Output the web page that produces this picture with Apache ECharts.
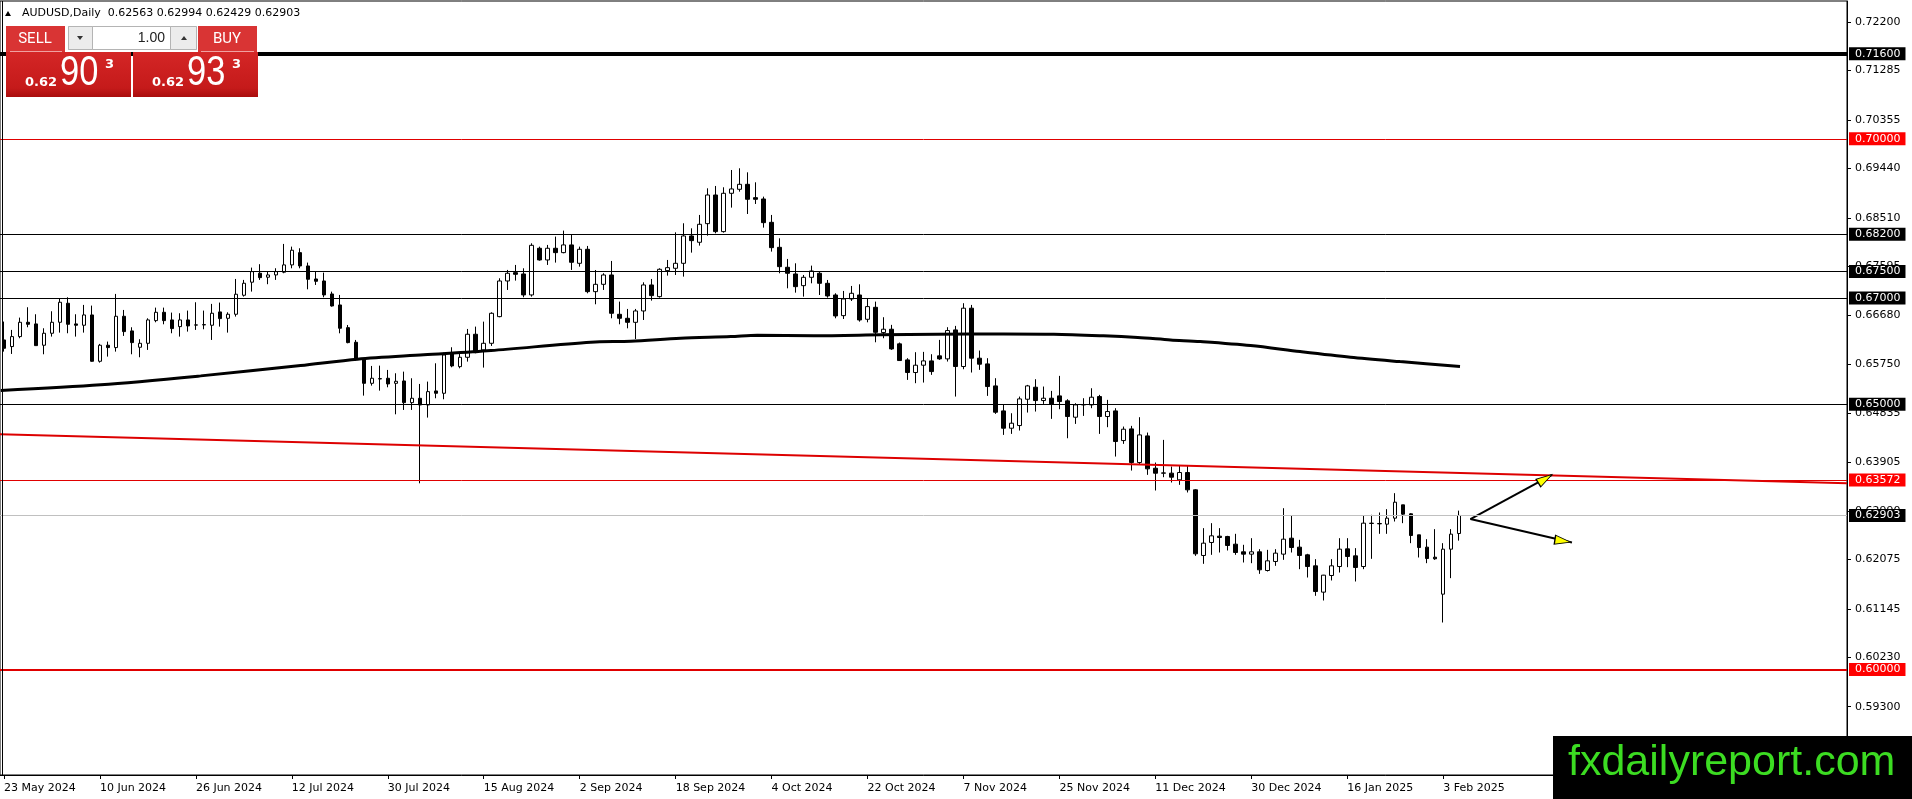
<!DOCTYPE html>
<html>
<head>
<meta charset="utf-8">
<title>AUDUSD Daily</title>
<script src="https://cdn.jsdelivr.net/npm/echarts@6.0.0/dist/echarts.min.js"></script>
<style>
  html, body { margin: 0; padding: 0; background: #fff; }
  #chart { width: 1912px; height: 799px; }
</style>
</head>
<body>
<div id="chart"></div>
<script>
// date labels, one every 12 bars, starting at bar 0
var tickLabels = ['23 May 2024', '10 Jun 2024', '26 Jun 2024', '12 Jul 2024', '30 Jul 2024',
    '15 Aug 2024', '2 Sep 2024', '18 Sep 2024', '4 Oct 2024', '22 Oct 2024', '7 Nov 2024',
    '25 Nov 2024', '11 Dec 2024', '30 Dec 2024', '16 Jan 2025', '3 Feb 2025'];

// price scale labels as MT4 prints them
var yTicks = [0.72200, 0.71285, 0.70355, 0.69440, 0.68510, 0.67595, 0.66680, 0.65750,
    0.64835, 0.63905, 0.62990, 0.62075, 0.61145, 0.60230, 0.59300];

var opens = [
    0.66210, 0.66085, 0.66273, 0.66543, 0.66512, 0.66110, 0.66336, 0.66543, 0.66901, 0.66512,
    0.66487, 0.66681, 0.65808, 0.66110, 0.66066, 0.66656, 0.66380, 0.66072, 0.66147, 0.66574,
    0.66731, 0.66587, 0.66461, 0.66587, 0.66493, 0.66493, 0.66487, 0.66738, 0.66618, 0.66694,
    0.67052, 0.67298, 0.67467, 0.67392, 0.67435, 0.67486, 0.67624, 0.67855, 0.67604, 0.67359,
    0.67321, 0.67076, 0.66869, 0.66442, 0.66166, 0.65833, 0.65393, 0.65481, 0.65488, 0.65393,
    0.65437, 0.65029, 0.65111, 0.64985, 0.65249, 0.65205, 0.65971, 0.65707, 0.65883, 0.66317,
    0.66021, 0.66147, 0.66649, 0.67321, 0.67478, 0.67453, 0.67058, 0.67937, 0.67717, 0.67937,
    0.67855, 0.68000, 0.67654, 0.67918, 0.67120, 0.67258, 0.67434, 0.66693, 0.66618, 0.66542,
    0.66756, 0.67246, 0.67026, 0.67516, 0.67560, 0.67654, 0.68169, 0.68050, 0.68401, 0.68941,
    0.68251, 0.68973, 0.69048, 0.69142, 0.68891, 0.68866, 0.68426, 0.67955, 0.67579, 0.67453,
    0.67233, 0.67390, 0.67466, 0.67277, 0.67057, 0.66668, 0.66982, 0.67057, 0.66599, 0.66825,
    0.66349, 0.66412, 0.66136, 0.65834, 0.65596, 0.65734, 0.65815, 0.65910, 0.65853, 0.66399,
    0.65709, 0.66808, 0.65866, 0.65759, 0.65344, 0.64873, 0.64547, 0.64597, 0.65093, 0.65319,
    0.65068, 0.65112, 0.65156, 0.65062, 0.64754, 0.64986, 0.64986, 0.65143, 0.64767, 0.64873,
    0.64314, 0.64534, 0.63900, 0.64402, 0.63793, 0.63699, 0.63700, 0.63574, 0.63712, 0.63386,
    0.62149, 0.62394, 0.62513, 0.62507, 0.62362, 0.62218, 0.62174, 0.62218, 0.61866, 0.62036,
    0.62174, 0.62475, 0.62306, 0.62161, 0.61954, 0.61458, 0.61772, 0.61941, 0.62274, 0.62142,
    0.61941, 0.62752, 0.62745, 0.62739, 0.62852, 0.63103, 0.62934, 0.62538, 0.62306, 0.62117,
    0.61420, 0.62268, 0.62563
];
var highs = [
    0.66556, 0.66399, 0.66631, 0.66826, 0.66694, 0.66430, 0.66750, 0.66995, 0.67014, 0.66694,
    0.66870, 0.66857, 0.66135, 0.66179, 0.67077, 0.66775, 0.66449, 0.66223, 0.66618, 0.66819,
    0.66819, 0.66725, 0.66713, 0.66763, 0.66920, 0.66763, 0.66889, 0.66914, 0.66731, 0.67359,
    0.67341, 0.67573, 0.67637, 0.67497, 0.67561, 0.68019, 0.67968, 0.67937, 0.67667, 0.67497,
    0.67478, 0.67120, 0.67058, 0.66492, 0.66210, 0.65864, 0.65720, 0.65726, 0.65645, 0.65582,
    0.65613, 0.65488, 0.65381, 0.65425, 0.65770, 0.65971, 0.66072, 0.65971, 0.66417, 0.66461,
    0.66555, 0.66731, 0.67372, 0.67529, 0.67623, 0.67560, 0.68031, 0.67968, 0.68000, 0.68157,
    0.68270, 0.68188, 0.67968, 0.67981, 0.67528, 0.67466, 0.67698, 0.66932, 0.66794, 0.66794,
    0.67296, 0.67359, 0.67560, 0.67717, 0.68238, 0.68408, 0.68313, 0.68565, 0.69067, 0.69111,
    0.69086, 0.69412, 0.69444, 0.69368, 0.69180, 0.68910, 0.68565, 0.68125, 0.67736, 0.67654,
    0.67434, 0.67610, 0.67497, 0.67340, 0.67089, 0.67133, 0.67227, 0.67258, 0.66982, 0.66932,
    0.66638, 0.66494, 0.66161, 0.65866, 0.65979, 0.65985, 0.65941, 0.66211, 0.66450, 0.66475,
    0.66902, 0.66870, 0.66010, 0.65866, 0.65489, 0.64986, 0.64829, 0.65143, 0.65363, 0.65470,
    0.65332, 0.65250, 0.65533, 0.65093, 0.65018, 0.65112, 0.65300, 0.65175, 0.65081, 0.64924,
    0.64578, 0.64591, 0.64754, 0.64465, 0.63900, 0.64327, 0.63825, 0.63838, 0.63838, 0.63398,
    0.62664, 0.62758, 0.62664, 0.62519, 0.62557, 0.62350, 0.62475, 0.62268, 0.62255, 0.62268,
    0.63040, 0.62896, 0.62444, 0.62180, 0.62080, 0.61784, 0.62080, 0.62475, 0.62475, 0.62287,
    0.62896, 0.62915, 0.62959, 0.63022, 0.63323, 0.63103, 0.62946, 0.62538, 0.62456, 0.62645,
    0.62381, 0.62645, 0.62994
];
var lows = [
    0.65990, 0.65946, 0.66242, 0.66449, 0.66103, 0.65940, 0.66273, 0.66348, 0.66336, 0.66273,
    0.66348, 0.65800, 0.65783, 0.65896, 0.65990, 0.66286, 0.65940, 0.65884, 0.66022, 0.66543,
    0.66505, 0.66336, 0.66273, 0.66367, 0.66399, 0.66411, 0.66210, 0.66461, 0.66348, 0.66650,
    0.67027, 0.67121, 0.67341, 0.67260, 0.67341, 0.67467, 0.67560, 0.67560, 0.67164, 0.67246,
    0.67014, 0.66838, 0.66335, 0.66147, 0.65820, 0.65161, 0.65349, 0.65255, 0.65318, 0.64809,
    0.64891, 0.64891, 0.63509, 0.64747, 0.65111, 0.65092, 0.65695, 0.65676, 0.65802, 0.65959,
    0.65689, 0.66097, 0.66637, 0.67152, 0.67328, 0.67014, 0.67026, 0.67704, 0.67623, 0.67667,
    0.67843, 0.67529, 0.67591, 0.67089, 0.66882, 0.67152, 0.66618, 0.66505, 0.66429, 0.66228,
    0.66586, 0.66951, 0.67007, 0.67422, 0.67434, 0.67403, 0.67855, 0.67987, 0.68175, 0.68219,
    0.68232, 0.68703, 0.69004, 0.68583, 0.68772, 0.68326, 0.67874, 0.67466, 0.67183, 0.67101,
    0.67026, 0.67277, 0.67057, 0.67007, 0.66618, 0.66605, 0.66944, 0.66555, 0.66542, 0.66166,
    0.66242, 0.66023, 0.65815, 0.65457, 0.65395, 0.65407, 0.65552, 0.65834, 0.65803, 0.65143,
    0.65658, 0.65596, 0.65646, 0.65156, 0.64817, 0.64421, 0.64440, 0.64503, 0.64842, 0.64861,
    0.65005, 0.64723, 0.64905, 0.64358, 0.64628, 0.64779, 0.64924, 0.64440, 0.64566, 0.64013,
    0.64252, 0.63749, 0.63856, 0.63668, 0.63373, 0.63624, 0.63524, 0.63480, 0.63336, 0.62142,
    0.61992, 0.62161, 0.62205, 0.62243, 0.62161, 0.62017, 0.62004, 0.61803, 0.61847, 0.61954,
    0.62067, 0.62205, 0.61891, 0.61734, 0.61389, 0.61301, 0.61678, 0.61828, 0.61929, 0.61659,
    0.61891, 0.62086, 0.62557, 0.62557, 0.62789, 0.62758, 0.62381, 0.62111, 0.62004, 0.62067,
    0.60886, 0.61722, 0.62429
];
var closes = [
    0.66053, 0.66273, 0.66543, 0.66505, 0.66103, 0.66336, 0.66543, 0.66920, 0.66505, 0.66487,
    0.66681, 0.65808, 0.66110, 0.66066, 0.66656, 0.66367, 0.66160, 0.66147, 0.66587, 0.66731,
    0.66574, 0.66424, 0.66587, 0.66474, 0.66490, 0.66499, 0.66713, 0.66612, 0.66694, 0.67071,
    0.67278, 0.67497, 0.67384, 0.67435, 0.67497, 0.67624, 0.67900, 0.67604, 0.67353, 0.67315,
    0.67058, 0.66850, 0.66430, 0.66160, 0.65852, 0.65393, 0.65488, 0.65475, 0.65381, 0.65431,
    0.65029, 0.65111, 0.64985, 0.65236, 0.65205, 0.65927, 0.65720, 0.65883, 0.66317, 0.65971,
    0.66147, 0.66712, 0.67321, 0.67466, 0.67447, 0.67058, 0.67993, 0.67717, 0.67937, 0.67855,
    0.68000, 0.67673, 0.67918, 0.67120, 0.67258, 0.67434, 0.66712, 0.66618, 0.66542, 0.66756,
    0.67246, 0.67045, 0.67541, 0.67572, 0.67654, 0.68169, 0.68081, 0.68389, 0.68941, 0.68251,
    0.68973, 0.69055, 0.69142, 0.68860, 0.68860, 0.68420, 0.67949, 0.67591, 0.67466, 0.67214,
    0.67390, 0.67510, 0.67277, 0.67039, 0.66662, 0.66982, 0.67089, 0.66586, 0.66838, 0.66354,
    0.66412, 0.66041, 0.65822, 0.65596, 0.65734, 0.65815, 0.65614, 0.65853, 0.66387, 0.65709,
    0.66808, 0.65866, 0.65753, 0.65332, 0.64848, 0.64547, 0.64641, 0.65099, 0.65344, 0.65068,
    0.65112, 0.65005, 0.65049, 0.64767, 0.64986, 0.64992, 0.65131, 0.64767, 0.64861, 0.64296,
    0.64528, 0.63900, 0.64421, 0.63781, 0.63699, 0.63705, 0.63624, 0.63712, 0.63386, 0.62180,
    0.62381, 0.62519, 0.62488, 0.62337, 0.62205, 0.62174, 0.62218, 0.61879, 0.62048, 0.62193,
    0.62456, 0.62299, 0.62149, 0.61941, 0.61470, 0.61778, 0.61954, 0.62268, 0.62130, 0.61923,
    0.62758, 0.62758, 0.62752, 0.62852, 0.63153, 0.62927, 0.62525, 0.62299, 0.62092, 0.62086,
    0.62268, 0.62551, 0.62903
];

// moving average as [bar, price]
var maLine = [
    [-0.4, 0.65256], [12.1, 0.65364], [24.6, 0.65533], [37.1, 0.65727], [44.2, 0.65848],
    [52.5, 0.65929], [60.9, 0.66010], [73.4, 0.66168], [78.4, 0.66185], [84.6, 0.66243],
    [90.9, 0.66273], [94.2, 0.66300], [101.3, 0.66290], [109.6, 0.66306], [116.7, 0.66319],
    [125.0, 0.66324], [131.3, 0.66319], [137.5, 0.66287], [141.8, 0.66255], [145.9, 0.66211],
    [149.6, 0.66179], [155.9, 0.66104], [162.1, 0.65991], [168.4, 0.65885], [174.6, 0.65802],
    [182.1, 0.65708]
];
var trendLine = [[-0.5, 0.64435], [230.5, 0.63509]];
var arrowUp = [[183.4, 0.62835], [193.6, 0.63669]];
var arrowDown = [[183.4, 0.62835], [196.1, 0.62394]];
var arrowHeads = [[192.75, 0.63594], [194.96, 0.62422]];

var heavyBlackLevels = [0.71600];
var blackLevels = [0.68200, 0.67500, 0.67000, 0.65000];
var redLevels = [0.70000, 0.63572];
var heavyRedLevels = [0.60000];
var bidPrice = 0.62903;
var askPrice = 0.62933;
var lotSize = '1.00';

var futureSlots = 48;
var yMin = 0.58013, yMax = 0.72596;

var FONT = 'DejaVu Sans';

var chart = echarts.init(document.getElementById('chart'));

var slotCount = opens.length + futureSlots;
var cats = [];
for (var i = 0; i < slotCount; i++) cats.push(String(i));

var candles = [];
for (var i = 0; i < opens.length; i++) {
    candles.push([opens[i], closes[i], lows[i], highs[i]]);
}

function isTick(index) {
    return index % 12 === 0 && index / 12 < tickLabels.length;
}

function level(value, color, width, boxColor) {
    return {
        yAxis: value,
        lineStyle: { color: color, width: width, type: 'solid' },
        label: { backgroundColor: boxColor }
    };
}

var levelData = [];
heavyBlackLevels.forEach(function (v) { levelData.push(level(v, '#000', 4, '#000')); });
blackLevels.forEach(function (v) { levelData.push(level(v, '#000', 1, '#000')); });
redLevels.forEach(function (v) { levelData.push(level(v, '#e00000', 1, '#ff0000')); });
heavyRedLevels.forEach(function (v) { levelData.push(level(v, '#e00000', 2, '#ff0000')); });
levelData.push(level(bidPrice, '#c0c0c0', 1, '#000'));

// split a quote the way the one-click panel prints it
function quoteParts(p) {
    var s = p.toFixed(5);
    return [s.slice(0, 4), s.slice(4, 6), s.slice(6)];
}

var last = opens.length - 1;
var headerText = 'AUDUSD,Daily  ' + [opens[last], highs[last], lows[last], closes[last]]
    .map(function (v) { return v.toFixed(5); }).join(' ');

var boxFill = new echarts.graphic.LinearGradient(0, 0, 0, 1, [
    { offset: 0, color: '#d42626' }, { offset: 0.8, color: '#c51a1a' }, { offset: 1, color: '#a90d0d' }
]);
var btnFill = '#d93434';

function priceBox(x, parts) {
    return [
        { type: 'rect', shape: { x: x, y: 52, width: 125, height: 45 }, style: { fill: boxFill } },
        { type: 'text', x: x + 19, y: 83, style: { text: parts[0], fill: '#fff', font: 'bold 13px "DejaVu Sans"', textAlign: 'left', textVerticalAlign: 'middle' } },
        { type: 'text', x: x + 54, y: 73, scaleX: 0.82, style: { text: parts[1], fill: '#fff', font: '42px "Liberation Sans"', textAlign: 'left', textVerticalAlign: 'middle' } },
        { type: 'text', x: x + 99, y: 65, style: { text: parts[2], fill: '#fff', font: 'bold 13px "DejaVu Sans"', textAlign: 'left', textVerticalAlign: 'middle' } }
    ];
}

var graphics = [
    // left frame edge
    { type: 'line', shape: { x1: 2.5, y1: 1, x2: 2.5, y2: 775 }, style: { stroke: '#000', lineWidth: 1 } },
    // header
    { type: 'polygon', shape: { points: [[5, 16], [11, 16], [8, 11]] }, style: { fill: '#000' } },
    { type: 'text', x: 22, y: 13, style: { text: headerText, fill: '#000', font: '11px "DejaVu Sans"', textAlign: 'left', textVerticalAlign: 'middle' } },
    // sell / buy buttons and lot box
    { type: 'rect', shape: { x: 6, y: 26, width: 59, height: 26 }, style: { fill: btnFill } },
    { type: 'line', shape: { x1: 10, y1: 51.5, x2: 62, y2: 51.5 }, style: { stroke: '#f0a0a0', lineWidth: 1 } },
    { type: 'text', x: 35, y: 39, style: { text: 'SELL', fill: '#fff', font: '15px Roboto', textAlign: 'center', textVerticalAlign: 'middle' } },
    { type: 'rect', shape: { x: 198, y: 26, width: 59, height: 26 }, style: { fill: btnFill } },
    { type: 'line', shape: { x1: 201, y1: 51.5, x2: 254, y2: 51.5 }, style: { stroke: '#f0a0a0', lineWidth: 1 } },
    { type: 'text', x: 227, y: 39, style: { text: 'BUY', fill: '#fff', font: '15px Roboto', textAlign: 'center', textVerticalAlign: 'middle' } },
    { type: 'rect', shape: { x: 68.5, y: 26.5, width: 128, height: 23 }, style: { fill: '#fff', stroke: '#b4b4b4', lineWidth: 1 } },
    { type: 'rect', shape: { x: 68.5, y: 26.5, width: 24, height: 23 }, style: { fill: '#ececec', stroke: '#b4b4b4', lineWidth: 1 } },
    { type: 'rect', shape: { x: 170.5, y: 26.5, width: 26, height: 23 }, style: { fill: '#ececec', stroke: '#b4b4b4', lineWidth: 1 } },
    { type: 'polygon', shape: { points: [[77, 36], [83, 36], [80, 40]] }, style: { fill: '#333' } },
    { type: 'polygon', shape: { points: [[181, 40], [187, 40], [184, 36]] }, style: { fill: '#333' } },
    { type: 'text', x: 165, y: 38, style: { text: lotSize, fill: '#222', font: '14px "Liberation Sans"', textAlign: 'right', textVerticalAlign: 'middle' } }
].concat(priceBox(6, quoteParts(bidPrice)), priceBox(133, quoteParts(askPrice)), [
    // watermark
    { type: 'rect', shape: { x: 1553, y: 736, width: 359, height: 63 }, style: { fill: '#000' } },
    { type: 'text', x: 1568, y: 763, style: { text: 'fxdailyreport.com', fill: '#3cdc22', font: '43px "Liberation Sans"', textAlign: 'left', textVerticalAlign: 'middle' } }
]);
graphics.forEach(function (g) { g.z = 100; g.silent = true; });

var option = {
    animation: false,
    backgroundColor: '#fff',
    grid: {
        left: -1, right: 65, top: 1, bottom: 24,
        show: true, borderColor: '#000', borderWidth: 1, backgroundColor: '#fff'
    },
    xAxis: [
        {
            type: 'category',
            data: cats,
            boundaryGap: true,
            axisLine: { onZero: false, lineStyle: { color: '#000', width: 1 } },
            axisTick: { show: true, alignWithLabel: true, length: 4, interval: isTick, lineStyle: { color: '#000' } },
            axisLabel: {
                interval: isTick,
                formatter: function (value, index) { return tickLabels[index / 12] || ''; },
                align: 'left', margin: 8, color: '#000', fontFamily: FONT, fontSize: 11
            },
            splitLine: { show: false }
        },
        { type: 'value', min: -0.5, max: slotCount - 0.5, show: false }
    ],
    yAxis: {
        type: 'value',
        position: 'right',
        min: yMin, max: yMax,
        axisLine: { show: true, onZero: false, lineStyle: { color: '#000', width: 1 } },
        axisTick: { show: true, length: 4, customValues: yTicks, lineStyle: { color: '#000' } },
        axisLabel: {
            customValues: yTicks,
            formatter: function (v) { return v.toFixed(5); },
            margin: 8, color: '#000', fontFamily: FONT, fontSize: 11
        },
        splitLine: { show: false }
    },
    graphic: graphics,
    series: [
        {
            type: 'candlestick',
            xAxisIndex: 0,
            data: candles,
            barWidth: 4,
            clip: false,
            itemStyle: {
                color: '#fff', color0: '#000',
                borderColor: '#000', borderColor0: '#000', borderColorDoji: '#000',
                borderWidth: 1
            },
            markLine: {
                silent: true,
                symbol: ['none', 'none'],
                precision: 5,
                label: {
                    show: true, position: 'end', distance: 2,
                    formatter: function (p) { return Number(p.value).toFixed(5); },
                    color: '#fff', fontFamily: FONT, fontSize: 11,
                    padding: [1, 5, 1, 6]
                },
                data: levelData
            },
            z: 2
        },
        {
            type: 'line', xAxisIndex: 1, data: maLine, smooth: 0.3,
            symbol: 'none', lineStyle: { color: '#000', width: 3 }, z: 3
        },
        {
            type: 'line', xAxisIndex: 1, data: trendLine,
            symbol: 'none', lineStyle: { color: '#dd0000', width: 2 }, z: 3
        },
        {
            type: 'line', xAxisIndex: 1, data: arrowUp,
            symbol: 'none', lineStyle: { color: '#000', width: 2 }, z: 4
        },
        {
            type: 'line', xAxisIndex: 1, data: arrowDown,
            symbol: 'none', lineStyle: { color: '#000', width: 2 }, z: 4
        },
        {
            type: 'scatter', xAxisIndex: 1,
            data: [
                { value: arrowHeads[0], symbolRotate: -58 },
                { value: arrowHeads[1], symbolRotate: -99 }
            ],
            symbol: 'triangle', symbolSize: [9, 16],
            itemStyle: { color: '#ffff00', borderColor: '#000', borderWidth: 1, opacity: 1 },
            z: 5
        }
    ]
};

chart.setOption(option);
</script>
</body>
</html>
